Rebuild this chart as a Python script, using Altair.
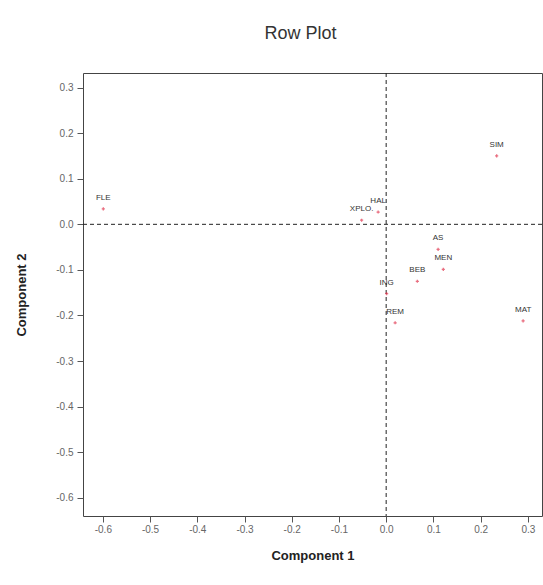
import altair as alt
import pandas as pd

labels = ["FLE", "SIM", "XPLO.", "HAL", "AS", "MEN", "BEB", "ING", "REM", "MAT"]
comp1 = [-0.599, 0.234, -0.052, -0.017, 0.110, 0.121, 0.066, 0.001, 0.019, 0.290]
comp2 = [0.034, 0.150, 0.009, 0.027, -0.055, -0.099, -0.125, -0.152, -0.216, -0.212]
x_ticks = [-0.6, -0.5, -0.4, -0.3, -0.2, -0.1, 0.0, 0.1, 0.2, 0.3]
y_ticks = [0.3, 0.2, 0.1, 0.0, -0.1, -0.2, -0.3, -0.4, -0.5, -0.6]

df = pd.DataFrame({"label": labels, "c1": comp1, "c2": comp2})
ref = pd.DataFrame({"v": [0.0]})

xs = alt.Scale(domain=[-0.642, 0.33], nice=False, zero=False)
ys = alt.Scale(domain=[-0.64, 0.332], nice=False, zero=False)

lab_expr = "replace(format(datum.value, '.1f'), '\u2212', '-')"

xax = alt.Axis(values=x_ticks, labelExpr=lab_expr, grid=False, domain=False, tickColor="#555",
               tickSize=6, labelFontSize=10, labelColor="#666", labelPadding=2,
               title="Component  1", titleFontSize=13, titleFontWeight="bold",
               titleColor="#222", titlePadding=15)
yax = alt.Axis(values=y_ticks, labelExpr=lab_expr, grid=False, domain=False, tickColor="#555",
               tickSize=6, labelFontSize=10, labelColor="#666", labelPadding=4,
               title="Component  2", titleFontSize=13, titleFontWeight="bold",
               titleColor="#222", titlePadding=27)

base = alt.Chart(df)

points = base.mark_point(shape="cross", filled=True, size=10, color="#e0304a").encode(
    x=alt.X("c1:Q", scale=xs, axis=xax),
    y=alt.Y("c2:Q", scale=ys, axis=yax),
)
text = base.mark_text(dy=-11, fontSize=8, color="#333", font="Liberation Sans").encode(
    x=alt.X("c1:Q", scale=xs),
    y=alt.Y("c2:Q", scale=ys),
    text="label:N",
)
vrule = alt.Chart(ref).mark_rule(strokeDash=[4, 3], color="#222", strokeWidth=1).encode(
    x=alt.X("v:Q", scale=xs)
)
hrule = alt.Chart(ref).mark_rule(strokeDash=[4, 3], color="#222", strokeWidth=1).encode(
    y=alt.Y("v:Q", scale=ys)
)

chart = alt.layer(vrule, hrule, points, text).properties(
    width=459,
    height=443,
    autosize=alt.AutoSizeParams(type="none"),
    padding={"left": 83, "top": 73, "right": 1, "bottom": 69},
    title=alt.Title("Row Plot", fontSize=18, fontWeight="normal", color="#333",
                    font="Liberation Sans", offset=30, dx=-12),
).configure(font="Liberation Sans").configure_view(stroke="#444", strokeWidth=1)

chart.save("out.html", embed_options={"renderer": "svg", "actions": False})
